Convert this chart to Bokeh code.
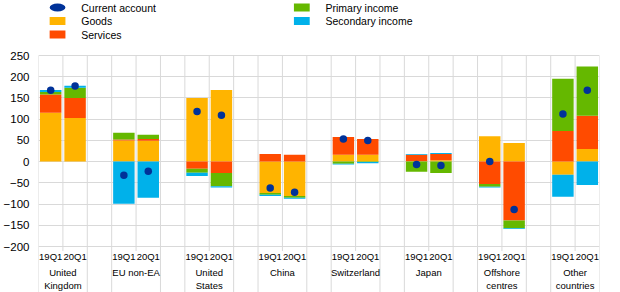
import numpy as np
from bokeh.plotting import figure
from bokeh.models import Range1d, FixedTicker
from bokeh.layouts import column
from bokeh.embed import file_html
from bokeh.resources import INLINE
from bokeh.core.properties import value

# ---------------- data ----------------
countries = ["United\nKingdom", "EU non-EA", "United\nStates", "China",
             "Switzerland", "Japan", "Offshore\ncentres", "Other\ncountries"]
quarters = ["19Q1", "20Q1"]
series_names = ["Current account", "Goods", "Services", "Primary income", "Secondary income"]
goods = [115, 103, 50, 49, 150, 169, -74, -81, 16, 16, 1, 3, 60, 44, -31, 30]
services = [43, 47, 2, 4.5, -17, -27, 18, 16, 42, 37.5, 15, 15, -53, -139, 72, 78]
primary_income = [6, 24, 16, 9.5, -9, -31, -4, -4, -5, -1, -24, -27, -6, -18, 123, 116]
secondary_income = [5, 5, -99, -85, -8, -3, -3, -2.5, -2, -3, 2, 2.5, -2, -1.5, -52, -55]
current_account = [168, 178, -32, -23, 118, 109, -62, -72, 53, 50, -7, -9, 0, -113, 112, 168]
y_ticks = [-200, -150, -100, -50, 0, 50, 100, 150, 200, 250]

# ---------------- styles ----------------
C_CA = "#003299"
C_GOODS = "#FFB400"
C_SERV = "#FF4B00"
C_PRIM = "#65B800"
C_SEC = "#00B1EA"
GRID = "#d9d9d9"
FONT = "Liberation Sans"

W = 604
LEG_H = 47
MAIN_H = 245
TOP_PX = 55.0      # screen y of 250
BOT_PX = 246.0     # screen y of -200
UPP = 450.0 / (BOT_PX - TOP_PX)   # units per pixel
FIG_TOP = float(LEG_H)
FIG_BOT = FIG_TOP + MAIN_H


def y_of(sy):
    return 250 - (sy - TOP_PX) * UPP


# ---------------- legend figure ----------------
lf = figure(width=W, height=LEG_H, x_range=Range1d(0, W), y_range=Range1d(LEG_H, 0),
            x_axis_type=None, y_axis_type=None, output_backend="svg",
            toolbar_location=None, min_border=0)
lf.outline_line_color = None
lf.ellipse(x=[20.5], y=[7], width=17, height=8, fill_color=C_CA, line_color=None)
lf.rect(x=[20.5, 20.5, 283.5, 283.5], y=[20.5, 34, 7, 20.5], width=17, height=8,
        fill_color=[C_GOODS, C_SERV, C_PRIM, C_SEC], line_color=None)
lf.text(x=[46, 46, 46, 309, 309], y=[7, 20.5, 34, 7, 20.5], text=series_names,
        text_font=value(FONT), text_font_size="10.5px", text_color="#000000",
        text_baseline="middle", text_align="left")

# ---------------- main figure ----------------
p = figure(width=W, height=MAIN_H, x_range=Range1d(0, 23),
           y_range=Range1d(y_of(FIG_BOT), y_of(FIG_TOP)),
           x_axis_type=None, output_backend="svg", toolbar_location=None,
           min_border_left=28, min_border_right=5, min_border_top=0, min_border_bottom=0)
p.outline_line_color = None

p.yaxis.ticker = FixedTicker(ticks=y_ticks)
p.yaxis.axis_line_color = None
p.yaxis.major_tick_line_color = None
p.yaxis.minor_tick_line_color = None
p.yaxis.major_tick_out = 0
p.yaxis.major_tick_in = 0
p.yaxis.major_label_standoff = 9
p.yaxis.major_label_text_font = FONT
p.yaxis.major_label_text_font_size = "11.5px"
p.yaxis.major_label_text_color = "#000000"
p.ygrid.grid_line_color = GRID
p.ygrid.grid_line_width = 1

n_groups = len(countries)
xc = np.array([3 * g + q + 0.5 for g in range(n_groups) for q in range(len(quarters))])

# vertical separator lines
long_x = [3 * g for g in range(n_groups)] + [3 * g + 2 for g in range(n_groups)]
short_x = [3 * g + 1 for g in range(n_groups)]
p.segment(x0=long_x, y0=[250] * len(long_x), x1=long_x, y1=[y_of(FIG_BOT)] * len(long_x),
          line_color=GRID, line_width=1)
p.segment(x0=short_x, y0=[250] * len(short_x), x1=short_x, y1=[y_of(250.5)] * len(short_x),
          line_color=GRID, line_width=1)

# stacked bars
pos_base = np.zeros(len(xc))
neg_base = np.zeros(len(xc))
for vals, col in [(goods, C_GOODS), (services, C_SERV),
                  (primary_income, C_PRIM), (secondary_income, C_SEC)]:
    v = np.array(vals, dtype=float)
    pos = np.clip(v, 0, None)
    neg = np.clip(v, None, 0)
    p.vbar(x=xc, bottom=pos_base, top=pos_base + pos, width=0.88,
           fill_color=col, line_color=None)
    p.vbar(x=xc, bottom=neg_base + neg, top=neg_base, width=0.88,
           fill_color=col, line_color=None)
    pos_base = pos_base + pos
    neg_base = neg_base + neg

p.scatter(x=xc, y=current_account, marker="circle", size=7.5,
          fill_color=C_CA, line_color=None)

# category labels
q_labels = [quarters[q] for g in range(n_groups) for q in range(len(quarters))]
p.text(x=xc, y=[y_of(256)] * len(xc), text=q_labels,
       text_font=value(FONT), text_font_size="9.5px", text_color="#000000",
       text_align="center", text_baseline="middle")
p.text(x=[3 * g + 1 for g in range(n_groups)], y=[y_of(266.5)] * n_groups, text=countries,
       text_font=value(FONT), text_font_size="9.5px", text_color="#000000",
       text_align="center", text_baseline="top", text_line_height=1.2)

layout = column(lf, p)
open("out.html", "w").write(file_html(layout, INLINE))
